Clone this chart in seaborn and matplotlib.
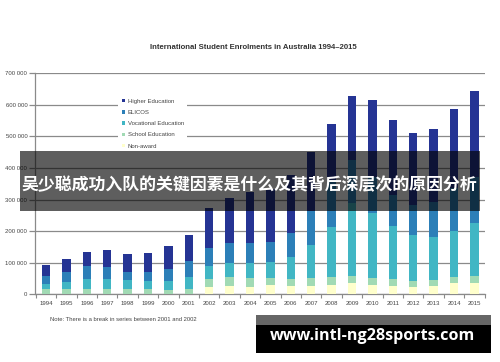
import numpy as np
import pandas as pd
import matplotlib
matplotlib.use("Agg")
import matplotlib.pyplot as plt
from matplotlib.patches import Patch, Rectangle
from matplotlib.ticker import FuncFormatter
import seaborn as sns

# Enrolments (thousands)
years = [str(y) for y in range(1994, 2016)]
non_award = [0, 0, 0, 0, 0, 0, 0, 0, 23, 26, 24, 28, 26, 26, 30, 35, 30, 26, 22, 26, 35, 37]
school = [16, 18, 18, 18, 16, 16, 14, 16, 27, 28, 29, 23, 22, 25, 26, 23, 21, 22, 20, 19, 21, 21]
vocational = [16, 22, 30, 30, 29, 27, 29, 38, 41, 45, 45, 51, 69, 106, 157, 232, 206, 169, 146, 136, 143, 167]
elicos = [26, 32, 42, 38, 27, 29, 37, 51, 57, 62, 64, 65, 77, 108, 148, 136, 116, 96, 94, 112, 138, 146]
higher = [34, 40, 45, 53, 57, 60, 73, 84, 126, 144, 163, 168, 185, 185, 180, 203, 242, 240, 230, 231, 250, 272]

series = ["Non-award", "School Education", "Vocational Education", "ELICOS", "Higher Education"]
colors = ["#ffffcc", "#a1dab4", "#41b6c4", "#2c7fb8", "#253494"]

df = pd.DataFrame({"year": years, "Non-award": non_award, "School Education": school,
                   "Vocational Education": vocational, "ELICOS": elicos,
                   "Higher Education": higher})
cum = df[series].cumsum(axis=1) * 1000

sns.set_style("white")
plt.rcParams["font.family"] = ["Liberation Sans", "DejaVu Sans"]

fig = plt.figure(figsize=(5, 3.62), dpi=100)
ax = fig.add_axes([0.07, 0.187, 0.90, 0.6105])

# stacked bars: draw the tallest cumulative first, then smaller ones on top
for name, col in zip(reversed(series), reversed(colors)):
    sns.barplot(x=df["year"], y=cum[name], color=col, saturation=1, width=0.41,
                linewidth=0, ax=ax, zorder=3)

ax.set_ylim(0, 700000)
ax.set_xlim(-0.54, 21.52)
ax.set_yticks(np.arange(0, 700001, 100000))
ax.yaxis.set_major_formatter(FuncFormatter(lambda v, p: f"{int(v):,}".replace(",", " ")))
ax.yaxis.grid(True, color="#8a8a8a", linewidth=0.9, zorder=0)
ax.set_axisbelow(True)
ax.set_xlabel("")
ax.set_ylabel("")

for s in ["top", "right"]:
    ax.spines[s].set_visible(False)
for s in ["left", "bottom"]:
    ax.spines[s].set_color("#8a8a8a")
    ax.spines[s].set_linewidth(0.9)

ax.tick_params(axis="y", length=4, width=0.9, color="#8a8a8a", labelsize=4.3,
               labelcolor="#444444", pad=1.5, left=True)
ax.tick_params(axis="x", length=0, labelsize=4.3, labelcolor="#444444", pad=5)
ax.set_xticks(np.arange(-0.5, 22, 1), minor=True)
ax.tick_params(axis="x", which="minor", length=3, width=0.8, color="#8a8a8a", bottom=True)

handles = [Patch(facecolor=c, edgecolor="none") for c in reversed(colors)]
leg = ax.legend(handles, list(reversed(series)), loc="upper left",
                bbox_to_anchor=(0.178, 0.915), frameon=True, fontsize=4.3,
                handlelength=0.5, handleheight=0.5, handletextpad=0.5,
                labelspacing=1.05, borderpad=0.6, labelcolor="#444444")
leg.get_frame().set_facecolor("white")
leg.get_frame().set_edgecolor("none")
leg.get_frame().set_alpha(1)
leg.set_zorder(4)

fig.text(0.506, 0.868, "International Student Enrolments in Australia 1994\u20132015",
         ha="center", va="center", fontsize=5.6, fontweight="bold", color="#333333")
fig.text(0.101, 0.118, "Note: There is a break in series between 2001 and 2002",
         ha="left", va="center", fontsize=4.2, color="#444444")

# dark caption band across the middle
fig.patches.append(Rectangle((20 / 500, 1 - 211 / 362), 460 / 500, 60 / 362,
                             transform=fig.transFigure, facecolor="black",
                             alpha=0.63, edgecolor="none", zorder=10))
fig.text(0.498, 1 - 185 / 362, "吴少聪成功入队的关键因素是什么及其背后深层次的原因分析",
         ha="center", va="center", fontsize=12.2, fontweight="bold", color="white",
         family=["Noto Sans CJK SC", "DejaVu Sans"], zorder=11)

# url box at the bottom right
fig.patches.append(Rectangle((256 / 500, 1 - 325 / 362), 235 / 500, 10 / 362,
                             transform=fig.transFigure, facecolor="#666666",
                             edgecolor="none", zorder=10))
fig.patches.append(Rectangle((256 / 500, 1 - 353 / 362), 235 / 500, 28 / 362,
                             transform=fig.transFigure, facecolor="black",
                             edgecolor="none", zorder=10))
fig.text(0.744, 1 - 336 / 362, "www.intl-ng28sports.com", ha="center", va="center",
         fontsize=11.6, fontweight="bold", color="white",
         family=["Open Sans", "DejaVu Sans"], zorder=11)

fig.savefig("out.png", dpi=100)
